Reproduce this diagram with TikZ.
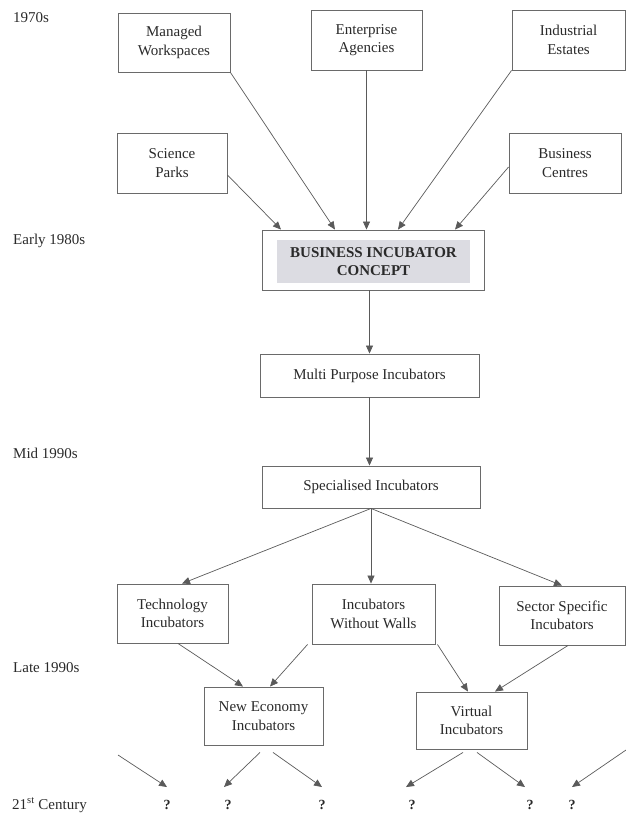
\documentclass[tikz,border=0pt]{standalone}
\usepackage{fontspec}
\setmainfont{Liberation Serif}
\usetikzlibrary{arrows.meta,calc}
\definecolor{linegray}{HTML}{5A5A5A}
\definecolor{boxgray}{HTML}{6A6A6A}
\definecolor{conceptfill}{HTML}{DCDCE2}
\definecolor{inkc}{HTML}{2A2A2A}

\begin{document}
\begin{tikzpicture}[x=1pt,y=-1pt,
  stage/.style={draw=boxgray, line width=0.9pt, fill=white, align=center,
    inner sep=0pt, text=inkc, font=\fontsize{15}{18.5}\selectfont},
  era/.style={anchor=base west, inner sep=0pt, text=inkc,
    font=\fontsize{15}{18}\selectfont},
  unknown/.style={anchor=base, inner sep=0pt, text=inkc,
    font=\fontsize{14}{16}\selectfont\bfseries},
  flow/.style={draw=linegray, line width=0.7pt,
    -{Triangle[length=8pt,width=7pt]}}
]
\useasboundingbox (0,0) rectangle (626,816);

% time axis labels
\node[era] (t70)  at (13,23)  {1970s};
\node[era] (t80)  at (13,244) {Early 1980s};
\node[era] (t95)  at (13,458) {Mid 1990s};
\node[era] (t99)  at (13,672) {Late 1990s};
\node[era] (t21)  at (12,809) {21\textsuperscript{st} Century};

% 1970s origins
\node[stage, minimum width=112pt, minimum height=59pt] (mw) at (174,42.5)   {Managed\\Workspaces};
\node[stage, minimum width=111pt, minimum height=60pt] (ea) at (366.5,40)   {Enterprise\\Agencies};
\node[stage, minimum width=113pt, minimum height=60pt] (ie) at (568.5,40)   {Industrial\\Estates};
\node[stage, minimum width=110pt, minimum height=60pt] (sp) at (172,163)    {Science\\Parks};
\node[stage, minimum width=112pt, minimum height=60pt] (bc) at (565,163)    {Business\\Centres};

% the concept
\node[stage, minimum width=222pt, minimum height=60pt] (bic) at (373,260) {};
\node[fill=conceptfill, minimum width=193pt, minimum height=43pt, inner sep=0pt,
      align=center, text=inkc, font=\fontsize{15}{18.5}\selectfont\bfseries]
      (core) at (373.5,261.5) {BUSINESS INCUBATOR\\CONCEPT};

% later generations
\node[stage, minimum width=219pt, minimum height=43pt] (mpi)  at (369.5,375.5) {Multi Purpose Incubators};
\node[stage, minimum width=218pt, minimum height=42pt] (spec) at (371,487)     {Specialised Incubators};
\node[stage, minimum width=111pt, minimum height=59pt] (tech) at (172.5,613.5) {Technology\\Incubators};
\node[stage, minimum width=123pt, minimum height=60pt] (iww)  at (373.5,614)   {Incubators\\Without Walls};
\node[stage, minimum width=126pt, minimum height=59pt] (ss)   at (562,615.5)   {Sector Specific\\Incubators};
\node[stage, minimum width=119pt, minimum height=58pt] (ne)   at (263.5,716)   {New Economy\\Incubators};
\node[stage, minimum width=111pt, minimum height=57pt] (vi)   at (471.5,720.5) {Virtual\\Incubators};

% open future
\node[unknown] (q1) at (167,809) {?};
\node[unknown] (q2) at (228,809) {?};
\node[unknown] (q3) at (322,809) {?};
\node[unknown] (q4) at (412,809) {?};
\node[unknown] (q5) at (530,809) {?};
\node[unknown] (q6) at (572,809) {?};
\coordinate (inL) at (118,755);
\coordinate (inR) at (626,750);

% converging into the concept
\draw[flow] ([yshift=-12pt]sp.east) -- ([xshift=-92pt]bic.north);
\draw[flow] (mw.south east) -- ([xshift=-38pt]bic.north);
\draw[flow] (ea.south) -- (ea.south |- bic.north);
\draw[flow] (ie.south west) -- ([xshift=25pt]bic.north);
\draw[flow] ([yshift=-4pt]bc.west) -- ([xshift=82pt]bic.north);

% the main line
\draw[flow] (mpi.north |- bic.south) -- (mpi.north);
\draw[flow] (mpi.south) -- (mpi.south |- spec.north);

% specialisation
\draw[flow] (spec.south) -- ([xshift=9.5pt]tech.north);
\draw[flow] (spec.south) -- (spec.south |- iww.north);
\draw[flow] (spec.south) -- (ss.north);

% late 1990s forms
\draw[flow] ([xshift=5.5pt]tech.south) -- ([xshift=-20.5pt]ne.north);
\draw[flow] ([xshift=-4pt]iww.south west) -- ([xshift=6.5pt]ne.north);
\draw[flow] ([xshift=2pt]iww.south east) -- ([xshift=-3.5pt]vi.north);
\draw[flow] ([xshift=6pt]ss.south) -- ([xshift=23.5pt]vi.north);

% towards the 21st century
\draw[flow] (inL) -- ([yshift=12.5pt]q1.north);
\draw[flow] ([xshift=-3.5pt,yshift=-7pt]ne.south) -- ([yshift=12.5pt,xshift=-4pt]q2.north);
\draw[flow] ([xshift=9.5pt,yshift=-7pt]ne.south) -- ([yshift=12.5pt]q3.north);
\draw[flow] ([xshift=-8.5pt,yshift=-3pt]vi.south) -- ([yshift=12.5pt,xshift=-6pt]q4.north);
\draw[flow] ([xshift=5.5pt,yshift=-3pt]vi.south) -- ([yshift=12.5pt,xshift=-5pt]q5.north);
\draw[flow] (inR) -- ([yshift=12.5pt]q6.north);
\end{tikzpicture}
\end{document}
